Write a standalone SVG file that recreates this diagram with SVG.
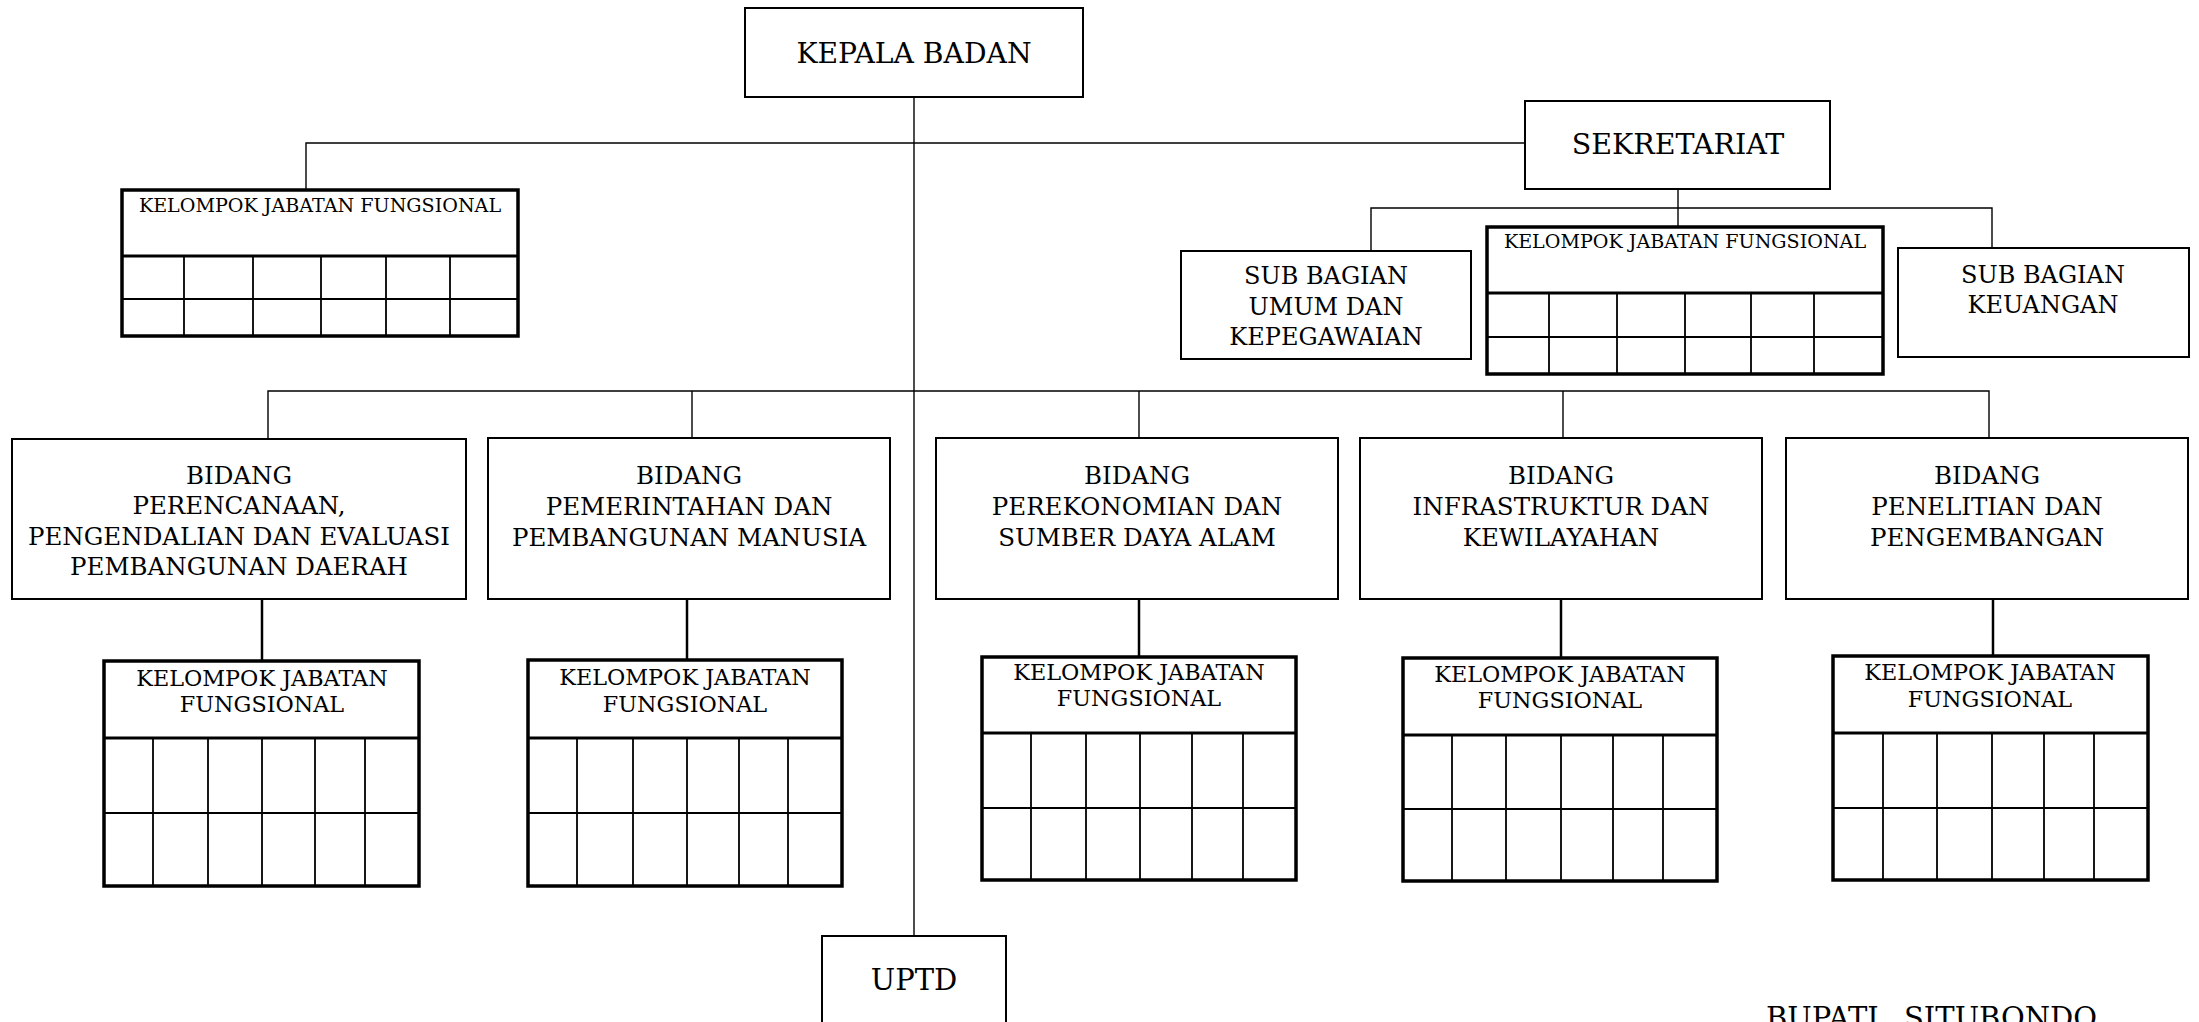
<svg xmlns="http://www.w3.org/2000/svg" width="2199" height="1022" viewBox="0 0 2199 1022">
<style>
text{font-family:"DejaVu Serif","Liberation Serif",serif;fill:#000;text-anchor:middle}
.box{fill:#fff;stroke:#000;stroke-width:2}
.kjf{fill:#fff;stroke:#000;stroke-width:3.5}
.sep{stroke:#000;stroke-width:3}
.grid{stroke:#000;stroke-width:1.8}
.conn{stroke:#000;stroke-width:1.4;fill:none}
.conn2{stroke:#000;stroke-width:2.5;fill:none}
.t-kb{font-size:28.2px}
.t-sek{font-size:28.5px}
.t-up{font-size:29px}
.t-bid{font-size:24.5px}
.t-sub{font-size:24px}
.t-kjf{font-size:22.3px}
.t-kjfs{font-size:19.1px}
</style>
<rect width="2199" height="1022" fill="#fff"/>
<g id="connectors">
<path class="conn" d="M914 97V936"/>
<path class="conn" d="M306 190V143H1525"/>
<path class="conn" d="M1678 189V227"/>
<path class="conn" d="M1371 251V208H1992V248"/>
<path class="conn" d="M268 439V391H1989V438"/>
<path class="conn" d="M692 391V438"/>
<path class="conn" d="M1139 391V438"/>
<path class="conn" d="M1563 391V438"/>
<path class="conn2" d="M262 599V661"/>
<path class="conn2" d="M687 599V660"/>
<path class="conn2" d="M1139 599V657"/>
<path class="conn2" d="M1561 599V658"/>
<path class="conn2" d="M1993 599V656"/>
</g>
<g id="kepala-badan">
<rect class="box" x="745" y="8" width="338" height="89"/>
<text class="t-kb" x="914" y="63">KEPALA BADAN</text>
</g>
<g id="sekretariat">
<rect class="box" x="1525" y="101" width="305" height="88"/>
<text class="t-sek" x="1678" y="154">SEKRETARIAT</text>
</g>
<g id="kjf-atas">
<rect class="kjf" x="122" y="190" width="396" height="146"/>
<path class="sep" d="M122 256H518"/>
<path class="grid" d="M122 299H518M184 256V336M253 256V336M321 256V336M386 256V336M450 256V336"/>
<text class="t-kjfs" x="320" y="212">KELOMPOK JABATAN FUNGSIONAL</text>
</g>
<g id="sub-umum">
<rect class="box" x="1181" y="251" width="290" height="108"/>
<text class="t-sub" x="1326" y="284">SUB BAGIAN</text>
<text class="t-sub" x="1326" y="315">UMUM DAN</text>
<text class="t-sub" x="1326" y="345">KEPEGAWAIAN</text>
</g>
<g id="kjf-sekretariat">
<rect class="kjf" x="1487" y="227" width="396" height="147"/>
<path class="sep" d="M1487 293H1883"/>
<path class="grid" d="M1487 337H1883M1549 293V374M1617 293V374M1685 293V374M1751 293V374M1814 293V374"/>
<text class="t-kjfs" x="1685" y="248">KELOMPOK JABATAN FUNGSIONAL</text>
</g>
<g id="sub-keuangan">
<rect class="box" x="1898" y="248" width="291" height="109"/>
<text class="t-sub" x="2043" y="283">SUB BAGIAN</text>
<text class="t-sub" x="2043" y="313">KEUANGAN</text>
</g>
<g id="bidang-1">
<rect class="box" x="12" y="439" width="454" height="160"/>
<text class="t-bid" x="239" y="484">BIDANG</text>
<text class="t-bid" x="239" y="514">PERENCANAAN,</text>
<text class="t-bid" x="239" y="545">PENGENDALIAN DAN EVALUASI</text>
<text class="t-bid" x="239" y="575">PEMBANGUNAN DAERAH</text>
</g>
<g id="bidang-2">
<rect class="box" x="488" y="438" width="402" height="161"/>
<text class="t-bid" x="689" y="484">BIDANG</text>
<text class="t-bid" x="689" y="515">PEMERINTAHAN DAN</text>
<text class="t-bid" x="689" y="546">PEMBANGUNAN MANUSIA</text>
</g>
<g id="bidang-3">
<rect class="box" x="936" y="438" width="402" height="161"/>
<text class="t-bid" x="1137" y="484">BIDANG</text>
<text class="t-bid" x="1137" y="515">PEREKONOMIAN DAN</text>
<text class="t-bid" x="1137" y="546">SUMBER DAYA ALAM</text>
</g>
<g id="bidang-4">
<rect class="box" x="1360" y="438" width="402" height="161"/>
<text class="t-bid" x="1561" y="484">BIDANG</text>
<text class="t-bid" x="1561" y="515">INFRASTRUKTUR DAN</text>
<text class="t-bid" x="1561" y="546">KEWILAYAHAN</text>
</g>
<g id="bidang-5">
<rect class="box" x="1786" y="438" width="402" height="161"/>
<text class="t-bid" x="1987" y="484">BIDANG</text>
<text class="t-bid" x="1987" y="515">PENELITIAN DAN</text>
<text class="t-bid" x="1987" y="546">PENGEMBANGAN</text>
</g>
<g id="kjf-1">
<rect class="kjf" x="104" y="661" width="315" height="225"/>
<path class="sep" d="M104 738H419"/>
<path class="grid" d="M104 813H419M153 738V886M208 738V886M262 738V886M315 738V886M365 738V886"/>
<text class="t-kjf" x="262" y="686">KELOMPOK JABATAN</text>
<text class="t-kjf" x="262" y="712">FUNGSIONAL</text>
</g>
<g id="kjf-2">
<rect class="kjf" x="528" y="660" width="314" height="226"/>
<path class="sep" d="M528 738H842"/>
<path class="grid" d="M528 813H842M577 738V886M633 738V886M687 738V886M739 738V886M788 738V886"/>
<text class="t-kjf" x="685" y="685">KELOMPOK JABATAN</text>
<text class="t-kjf" x="685" y="712">FUNGSIONAL</text>
</g>
<g id="kjf-3">
<rect class="kjf" x="982" y="657" width="314" height="223"/>
<path class="sep" d="M982 733H1296"/>
<path class="grid" d="M982 808H1296M1031 733V880M1086 733V880M1140 733V880M1192 733V880M1243 733V880"/>
<text class="t-kjf" x="1139" y="680">KELOMPOK JABATAN</text>
<text class="t-kjf" x="1139" y="706">FUNGSIONAL</text>
</g>
<g id="kjf-4">
<rect class="kjf" x="1403" y="658" width="314" height="223"/>
<path class="sep" d="M1403 735H1717"/>
<path class="grid" d="M1403 809H1717M1452 735V881M1506 735V881M1561 735V881M1613 735V881M1663 735V881"/>
<text class="t-kjf" x="1560" y="682">KELOMPOK JABATAN</text>
<text class="t-kjf" x="1560" y="708">FUNGSIONAL</text>
</g>
<g id="kjf-5">
<rect class="kjf" x="1833" y="656" width="315" height="224"/>
<path class="sep" d="M1833 733H2148"/>
<path class="grid" d="M1833 808H2148M1883 733V880M1937 733V880M1992 733V880M2044 733V880M2094 733V880"/>
<text class="t-kjf" x="1990" y="680">KELOMPOK JABATAN</text>
<text class="t-kjf" x="1990" y="707">FUNGSIONAL</text>
</g>
<g id="uptd">
<rect class="box" x="822" y="936" width="184" height="130"/>
<text class="t-up" x="914" y="990">UPTD</text>
</g>
<g id="bupati">
<text class="t-up" x="1766" y="1028" style="text-anchor:start;word-spacing:16px">BUPATI SITUBONDO</text>
</g>
</svg>
